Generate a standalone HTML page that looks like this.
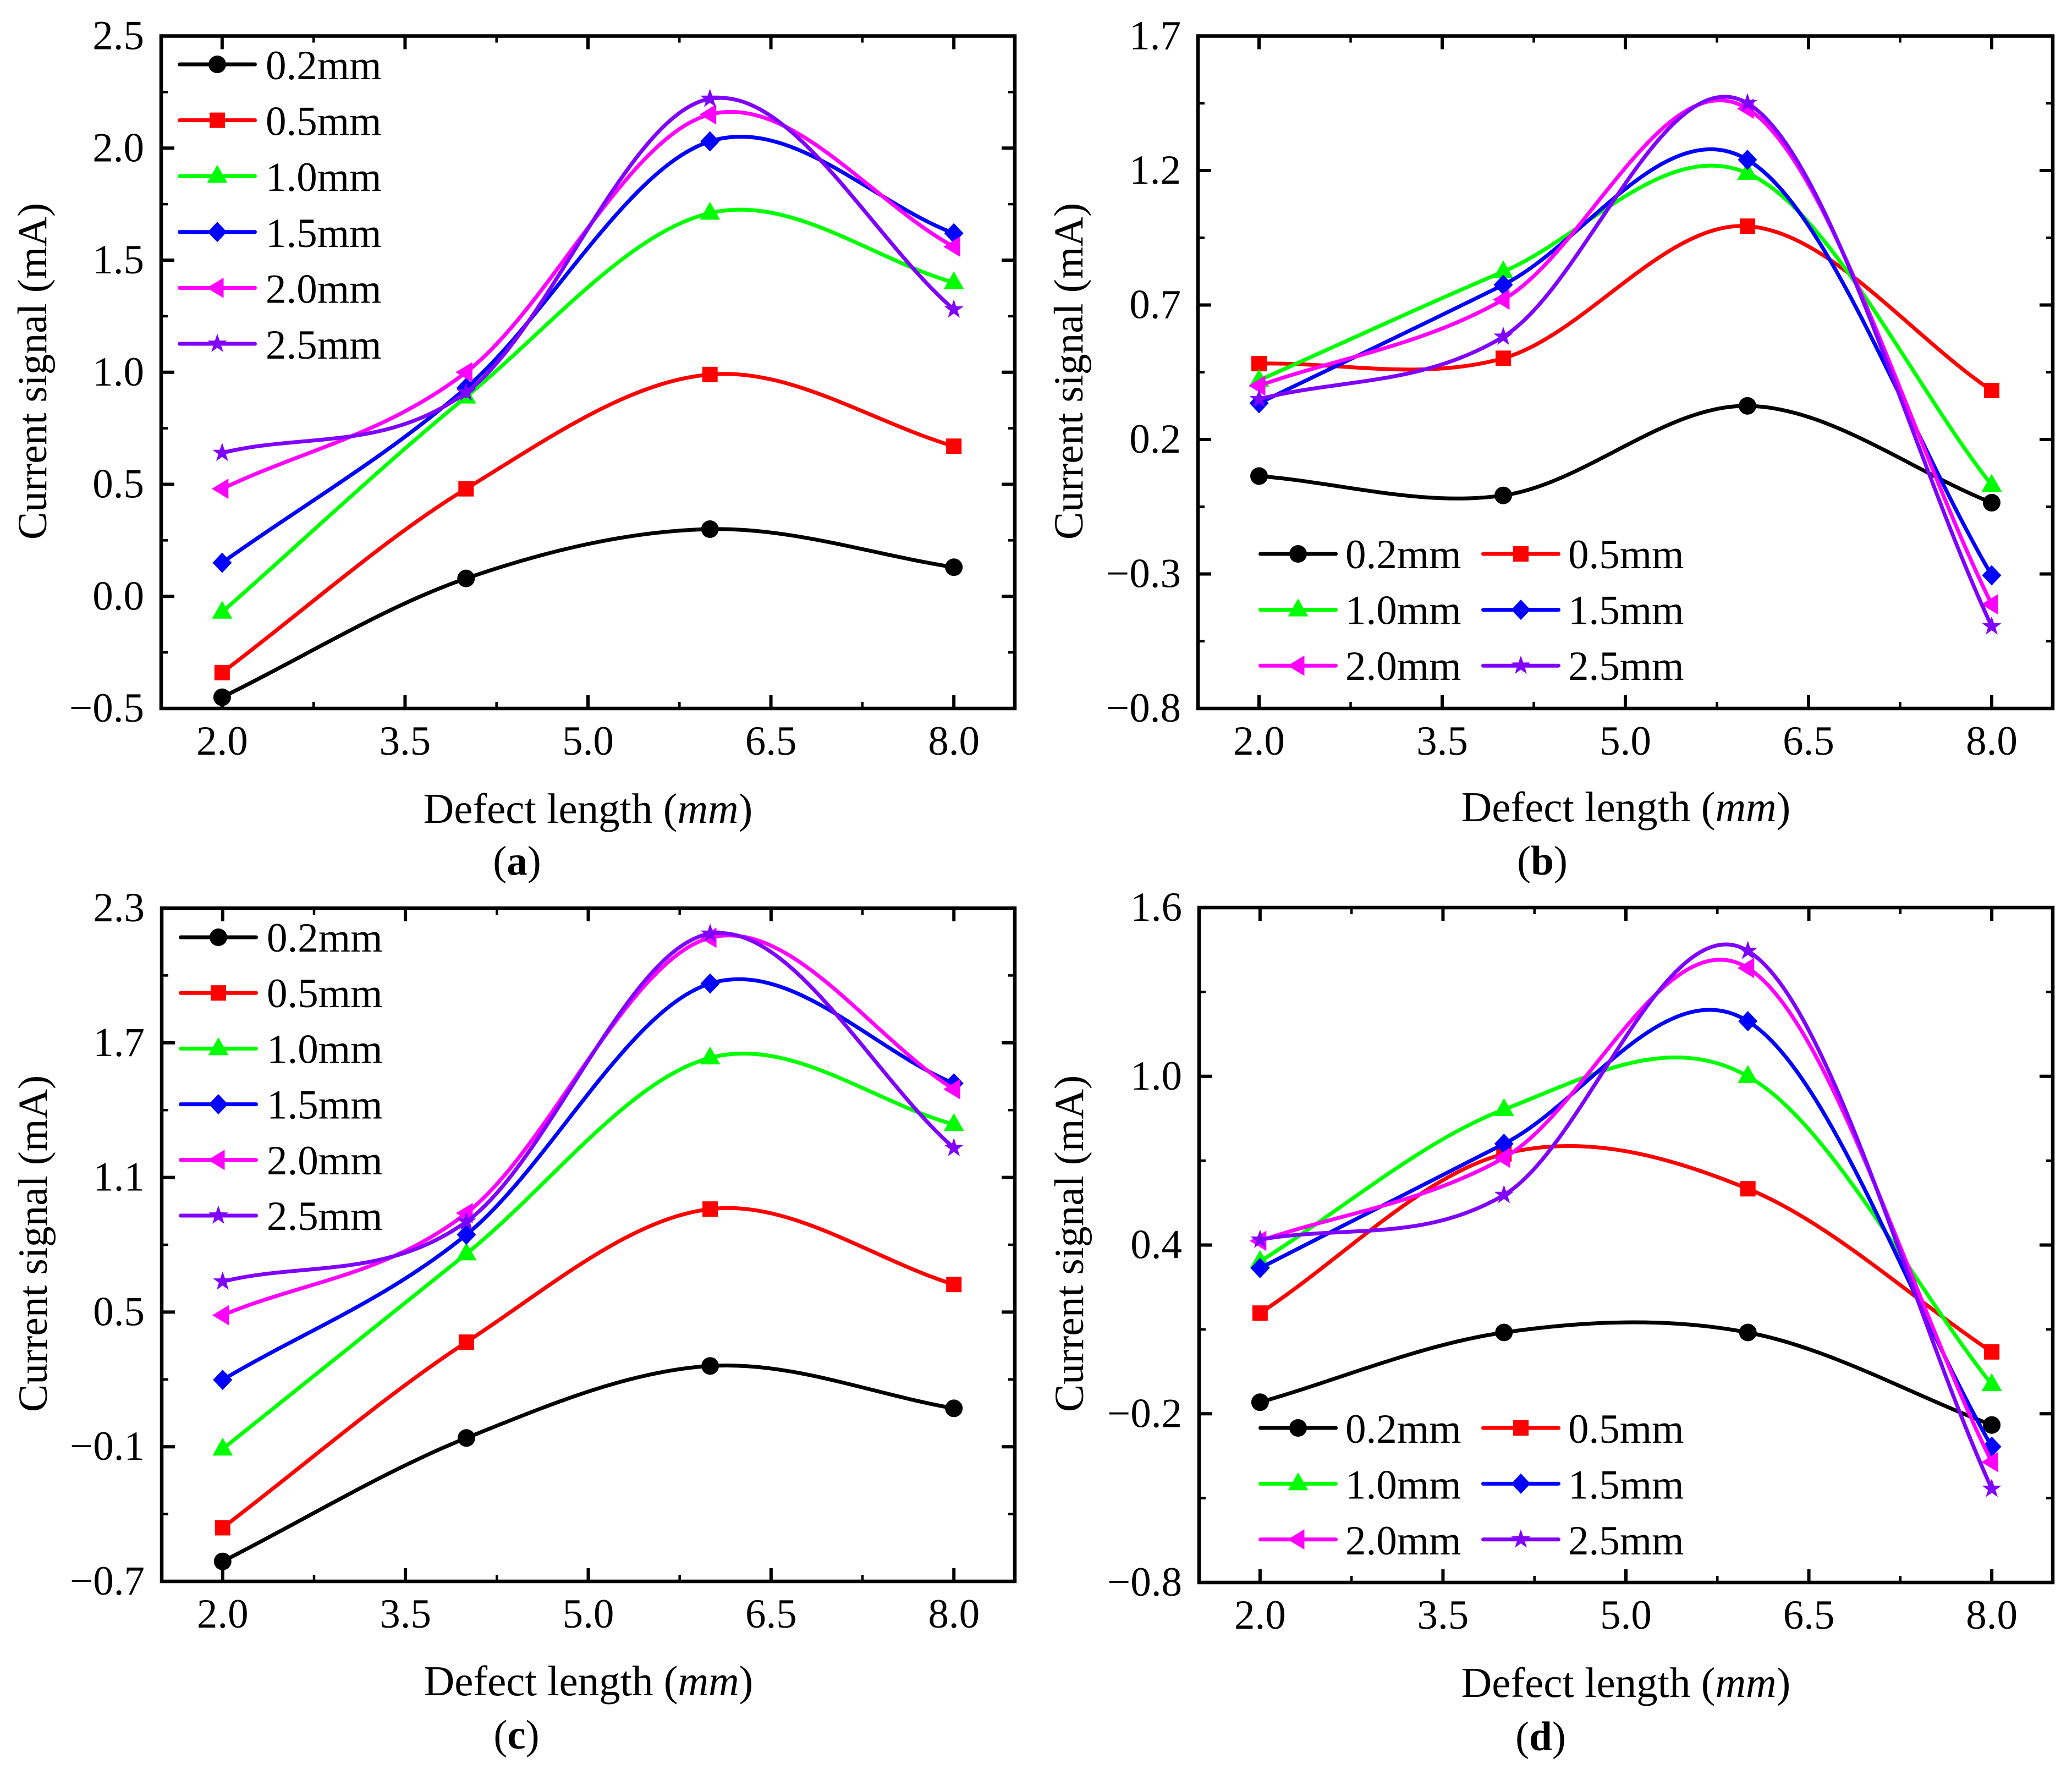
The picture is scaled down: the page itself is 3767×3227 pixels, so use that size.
<!DOCTYPE html>
<html lang="en">
<head>
<meta charset="utf-8">
<title>Current signal versus defect length</title>
<style>
html,body{margin:0;padding:0;background:#fff;}
svg{display:block;}
text{font-family:"Liberation Serif",serif;fill:#000;font-size:75px;}
.title{font-size:77px;}
.ytitle{font-size:75.5px;}
</style>
</head>
<body>
<svg id="figure" xmlns="http://www.w3.org/2000/svg" width="3767" height="3227" viewBox="0 0 3767 3227">
<rect width="3767" height="3227" fill="#fff"/>
<g id="panel-a">
  <text class="title" x="1069" y="1496" text-anchor="middle">Defect length (<tspan font-style="italic">mm</tspan>)</text>
  <text class="ytitle" transform="translate(84 675) rotate(-90)" text-anchor="middle">Current signal (mA)</text>
  <text x="940" y="1590" text-anchor="middle">(<tspan font-weight="bold">a</tspan>)</text>
</g>
<g id="panel-b">
  <text class="title" x="2956" y="1493" text-anchor="middle">Defect length (<tspan font-style="italic">mm</tspan>)</text>
  <text class="ytitle" transform="translate(1968 675) rotate(-90)" text-anchor="middle">Current signal (mA)</text>
  <text x="2804" y="1590" text-anchor="middle">(<tspan font-weight="bold">b</tspan>)</text>
</g>
<g id="panel-c">
  <text class="title" x="1070" y="3082" text-anchor="middle">Defect length (<tspan font-style="italic">mm</tspan>)</text>
  <text class="ytitle" transform="translate(85 2261) rotate(-90)" text-anchor="middle">Current signal (mA)</text>
  <text x="939" y="3179" text-anchor="middle">(<tspan font-weight="bold">c</tspan>)</text>
</g>
<g id="panel-d">
  <text class="title" x="2956" y="3085" text-anchor="middle">Defect length (<tspan font-style="italic">mm</tspan>)</text>
  <text class="ytitle" transform="translate(1969 2261) rotate(-90)" text-anchor="middle">Current signal (mA)</text>
  <text x="2801" y="3182" text-anchor="middle">(<tspan font-weight="bold">d</tspan>)</text>
</g>
</svg>
<script>
// ---- shared categories and tick labels
const defectLengths = [2, 4, 6, 8];
const xTicks = [2, 3.5, 5, 6.5, 8];
const xTickLabels = ['2.0', '3.5', '5.0', '6.5', '8.0'];
const xRange = [1.5, 8.5];
const seriesLabels = ['0.2mm', '0.5mm', '1.0mm', '1.5mm', '2.0mm', '2.5mm'];

// ---- panel (a) values
const aTicks = [-0.5, 0, 0.5, 1, 1.5, 2, 2.5];
const aTickLabels = ['\u22120.5', '0.0', '0.5', '1.0', '1.5', '2.0', '2.5'];
const a02 = [-0.45, 0.08, 0.30, 0.13];
const a05 = [-0.34, 0.48, 0.99, 0.67];
const a10 = [-0.07, 0.89, 1.71, 1.40];
const a15 = [0.15, 0.93, 2.03, 1.62];
const a20 = [0.48, 1.00, 2.15, 1.56];
const a25 = [0.64, 0.91, 2.22, 1.28];

// ---- panel (b) values
const bTicks = [-0.8, -0.3, 0.2, 0.7, 1.2, 1.7];
const bTickLabels = ['\u22120.8', '\u22120.3', '0.2', '0.7', '1.2', '1.7'];
const b02 = [0.064, -0.008, 0.325, -0.035];
const b05 = [0.482, 0.502, 0.993, 0.382];
const b10 = [0.42, 0.824, 1.19, 0.03];
const b15 = [0.335, 0.775, 1.24, -0.305];
const b20 = [0.40, 0.72, 1.43, -0.413];
const b25 = [0.35, 0.582, 1.45, -0.495];

// ---- panel (c) values
const cTicks = [-0.7, -0.1, 0.5, 1.1, 1.7, 2.3];
const cTickLabels = ['\u22120.7', '\u22120.1', '0.5', '1.1', '1.7', '2.3'];
const c02 = [-0.611, -0.061, 0.26, 0.071];
const c05 = [-0.461, 0.366, 0.959, 0.623];
const c10 = [-0.11, 0.76, 1.633, 1.336];
const c15 = [0.198, 0.845, 1.964, 1.519];
const c20 = [0.486, 0.941, 2.168, 1.493];
const c25 = [0.636, 0.903, 2.186, 1.231];

// ---- panel (d) values
const dTicks = [-0.8, -0.2, 0.4, 1.0, 1.6];
const dTickLabels = ['\u22120.8', '\u22120.2', '0.4', '1.0', '1.6'];
const d02 = [-0.159, 0.089, 0.089, -0.24];
const d05 = [0.158, 0.724, 0.60, 0.02];
const d10 = [0.342, 0.882, 1.0, -0.096];
const d15 = [0.318, 0.76, 1.196, -0.317];
const d20 = [0.415, 0.71, 1.385, -0.372];
const d25 = [0.419, 0.578, 1.446, -0.467];

const seriesColors = ['#000000', '#ff0000', '#00ff00', '#0000ff', '#ff00ff', '#8000ff'];
const markerNames = ['circle', 'square', 'triangle', 'diamond', 'left-triangle', 'star'];
const NS = 'http://www.w3.org/2000/svg';

function make(tag, parent) {
  const node = document.createElementNS(NS, tag);
  parent.appendChild(node);
  return node;
}

// Catmull-Rom style tangents: central difference inside, secant at the ends.
function tangents(xs, ys) {
  const n = xs.length;
  const s = [];
  for (let i = 0; i < n; i++) {
    const a = Math.max(i - 1, 0), b = Math.min(i + 1, n - 1);
    s.push((ys[b] - ys[a]) / (xs[b] - xs[a]));
  }
  return s;
}

function splinePath(xs, ys, sx, sy) {
  const s = tangents(xs, ys);
  let path = 'M' + sx(xs[0]).toFixed(2) + ' ' + sy(ys[0]).toFixed(2);
  for (let i = 0; i < xs.length - 1; i++) {
    const h = xs[i + 1] - xs[i];
    const c1x = xs[i] + h / 3, c1y = ys[i] + s[i] * h / 3;
    const c2x = xs[i + 1] - h / 3, c2y = ys[i + 1] - s[i + 1] * h / 3;
    path += 'C' + sx(c1x).toFixed(2) + ' ' + sy(c1y).toFixed(2) + ' ' +
      sx(c2x).toFixed(2) + ' ' + sy(c2y).toFixed(2) + ' ' +
      sx(xs[i + 1]).toFixed(2) + ' ' + sy(ys[i + 1]).toFixed(2);
  }
  return path;
}

function starPoints(cx, cy, outer, inner) {
  const pts = [];
  for (let i = 0; i < 10; i++) {
    const r = i % 2 ? inner : outer;
    const a = -Math.PI / 2 + i * Math.PI / 5;
    pts.push((cx + r * Math.cos(a)).toFixed(2) + ',' + (cy + r * Math.sin(a)).toFixed(2));
  }
  return pts.join(' ');
}

function drawMarker(parent, kind, cx, cy, color) {
  let el;
  if (kind === 0) {
    el = make('circle', parent);
    el.setAttribute('cx', cx);
    el.setAttribute('cy', cy);
    el.setAttribute('r', 16);
  } else if (kind === 1) {
    el = make('rect', parent);
    el.setAttribute('x', cx - 14);
    el.setAttribute('y', cy - 14);
    el.setAttribute('width', 28);
    el.setAttribute('height', 28);
  } else {
    el = make('polygon', parent);
    let pts = '';
    if (kind === 2) pts = cx + ',' + (cy - 20.5) + ' ' + (cx + 18.5) + ',' + (cy + 12) + ' ' + (cx - 18.5) + ',' + (cy + 12);
    if (kind === 3) pts = cx + ',' + (cy - 18.5) + ' ' + (cx + 17.5) + ',' + cy + ' ' + cx + ',' + (cy + 18.5) + ' ' + (cx - 17.5) + ',' + cy;
    if (kind === 4) pts = (cx - 19) + ',' + cy + ' ' + (cx + 11.5) + ',' + (cy - 18.5) + ' ' + (cx + 11.5) + ',' + (cy + 18.5);
    if (kind === 5) pts = starPoints(cx, cy, 18.5, 7.2);
    el.setAttribute('points', pts);
  }
  el.setAttribute('fill', color);
  
  
  return el;
}

function drawTick(parent, x1, y1, x2, y2, major) {
  const t = make('line', parent);
  t.setAttribute('x1', x1);
  t.setAttribute('y1', y1);
  t.setAttribute('x2', x2);
  t.setAttribute('y2', y2);
  t.setAttribute('stroke', '#000');
  t.setAttribute('stroke-width', major ? 6 : 4.5);
  
  
}

function drawPanel(p) {
  const root = document.getElementById(p.id);
  const sx = v => p.left + (v - xRange[0]) / (xRange[1] - xRange[0]) * (p.right - p.left);
  const yMin = p.yTicks[0], yMax = p.yTicks[p.yTicks.length - 1];
  const sy = v => p.bottom - (v - yMin) / (yMax - yMin) * (p.bottom - p.top);
  const majorLen = 24, minorLen = 12;

  // ticks
  const ticks = make('g', root);
  
  
  xTicks.forEach((v, i) => {
    const x = sx(v);
    drawTick(ticks, x, p.bottom, x, p.bottom - majorLen, true);
    drawTick(ticks, x, p.top, x, p.top + majorLen, true);
    if (i < xTicks.length - 1) {
      const xm = sx((v + xTicks[i + 1]) / 2);
      drawTick(ticks, xm, p.bottom, xm, p.bottom - minorLen, false);
      drawTick(ticks, xm, p.top, xm, p.top + minorLen, false);
    }
  });
  p.yTicks.forEach((v, i) => {
    const y = sy(v);
    drawTick(ticks, p.left, y, p.left + majorLen, y, true);
    drawTick(ticks, p.right, y, p.right - majorLen, y, true);
    if (i < p.yTicks.length - 1) {
      const ym = sy((v + p.yTicks[i + 1]) / 2);
      drawTick(ticks, p.left, ym, p.left + minorLen, ym, false);
      drawTick(ticks, p.right, ym, p.right - minorLen, ym, false);
    }
  });

  // tick labels
  xTicks.forEach((v, i) => {
    const t = make('text', root);
    t.setAttribute('x', sx(v));
    t.setAttribute('y', p.bottom + 84);
    t.setAttribute('text-anchor', 'middle');
    
    
    t.textContent = xTickLabels[i];
  });
  p.yTicks.forEach((v, i) => {
    const t = make('text', root);
    t.setAttribute('x', p.left - 31);
    t.setAttribute('y', sy(v) + 24);
    t.setAttribute('text-anchor', 'end');
    
    
    t.textContent = p.yTickLabels[i];
  });

  // series
  p.series.forEach((vals, i) => {
    const g = make('g', root);
    
    
    const line = make('path', g);
    line.setAttribute('d', splinePath(defectLengths, vals, sx, sy));
    line.setAttribute('fill', 'none');
    line.setAttribute('stroke', seriesColors[i]);
    line.setAttribute('stroke-width', 7);
    line.setAttribute('stroke-linecap', 'round');
    
    
    vals.forEach((v, j) => {
      drawMarker(g, i, sx(defectLengths[j]), sy(v), seriesColors[i]);
    });
  });

  // frame
  const frame = make('rect', root);
  frame.setAttribute('x', p.left);
  frame.setAttribute('y', p.top);
  frame.setAttribute('width', p.right - p.left);
  frame.setAttribute('height', p.bottom - p.top);
  frame.setAttribute('fill', 'none');
  frame.setAttribute('stroke', '#000');
  frame.setAttribute('stroke-width', 6.5);
  
  

  // legend
  const legend = make('g', root);
  
  
  seriesLabels.forEach((label, i) => {
    const col = i % p.legend.cols;
    const row = Math.floor(i / p.legend.cols);
    const lx = p.legend.x + col * p.legend.colStep;
    const ly = p.legend.y + row * p.legend.rowStep;
    const g = make('g', legend);
    
    
    const l = make('line', g);
    l.setAttribute('x1', lx + 3.5);
    l.setAttribute('y1', ly);
    l.setAttribute('x2', lx + p.legend.lineLen - 3.5);
    l.setAttribute('y2', ly);
    l.setAttribute('stroke', seriesColors[i]);
    l.setAttribute('stroke-width', 7);
    l.setAttribute('stroke-linecap', 'round');
    
    
    drawMarker(g, i, lx + p.legend.lineLen / 2, ly, seriesColors[i]);
    const t = make('text', g);
    t.setAttribute('x', lx + p.legend.lineLen + p.legend.textGap);
    t.setAttribute('y', ly + p.legend.textDy);
    
    
    t.textContent = label;
  });
}

drawPanel({
  id: 'panel-a', left: 293, right: 1845, top: 65.5, bottom: 1288,
  yTicks: aTicks, yTickLabels: aTickLabels,
  series: [a02, a05, a10, a15, a20, a25],
  legend: { x: 323, y: 117, cols: 1, colStep: 0, rowStep: 101.6, lineLen: 144, textDy: 27, textGap: 16 }
});
drawPanel({
  id: 'panel-b', left: 2178, right: 3732, top: 65.5, bottom: 1288,
  yTicks: bTicks, yTickLabels: bTickLabels,
  series: [b02, b05, b10, b15, b20, b25],
  legend: { x: 2288, y: 1007, cols: 2, colStep: 405, rowStep: 101.6, lineLen: 144, textDy: 26, textGap: 14 }
});
drawPanel({
  id: 'panel-c', left: 294, right: 1845, top: 1651, bottom: 2875,
  yTicks: cTicks, yTickLabels: cTickLabels,
  series: [c02, c05, c10, c15, c20, c25],
  legend: { x: 325, y: 1704, cols: 1, colStep: 0, rowStep: 101.2, lineLen: 144, textDy: 26, textGap: 16 }
});
drawPanel({
  id: 'panel-d', left: 2180, right: 3732, top: 1650, bottom: 2877,
  yTicks: dTicks, yTickLabels: dTickLabels,
  series: [d02, d05, d10, d15, d20, d25],
  legend: { x: 2288, y: 2596, cols: 2, colStep: 405, rowStep: 101.4, lineLen: 144, textDy: 27, textGap: 14 }
});
</script>
</body>
</html>
